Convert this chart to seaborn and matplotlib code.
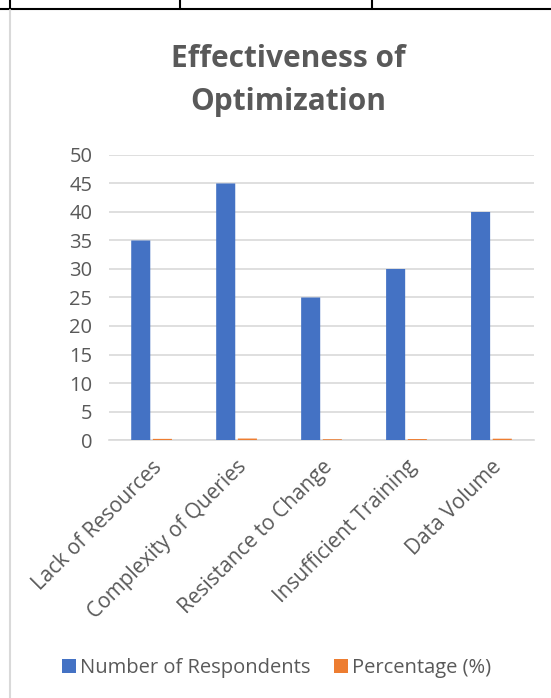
import pandas as pd
import seaborn as sns
import matplotlib.pyplot as plt
from matplotlib.lines import Line2D

# Dados do gráfico
categories = ["Lack of Resources", "Complexity of Queries", "Resistance to Change",
              "Insufficient Training", "Data Volume"]
respondents = [35, 45, 25, 30, 40]
percentage = [0.20, 0.26, 0.14, 0.17, 0.23]
series_names = ["Number of Respondents", "Percentage (%)"]
colors = ["#4472C4", "#ED7D31"]

df = pd.DataFrame({
    "Category": categories * 2,
    "Value": respondents + percentage,
    "Series": [series_names[0]] * 5 + [series_names[1]] * 5,
})

sns.set_theme(style="white")
plt.rcParams["font.family"] = ["Open Sans", "DejaVu Sans"]
grey = "#595959"

fig = plt.figure(figsize=(5.51, 6.98), dpi=100)
ax = fig.add_axes([0.198, 0.3696, 0.771, 0.4084])

sns.barplot(data=df, x="Category", y="Value", hue="Series", palette=colors,
            width=0.51, gap=0.12, ax=ax, legend=True, saturation=1, linewidth=0)
for p in ax.patches:
    p.set_zorder(3)
    p.set_snap(False)

ax.set_ylim(0, 50)
ax.set_yticks(range(0, 51, 5))
ax.set_xlim(-0.5, 4.5)
ax.grid(axis="y", color="#D9D9D9", linewidth=1.2)
ax.set_axisbelow(True)
for s in ["top", "right", "left"]:
    ax.spines[s].set_visible(False)
ax.spines["bottom"].set_color("#D9D9D9")
ax.spines["bottom"].set_linewidth(1.2)
ax.spines["bottom"].set_zorder(0.5)
ax.set_xlabel("")
ax.set_ylabel("")
ax.tick_params(axis="y", length=0, labelsize=14.5, labelcolor=grey, pad=12)
ax.tick_params(axis="x", length=0, labelsize=15, labelcolor=grey, pad=12)
plt.setp(ax.get_xticklabels(), rotation=45, ha="right", rotation_mode="anchor")

# Legenda embaixo
handles, labels = ax.get_legend_handles_labels()
ax.legend_.remove()
fig.legend(handles, labels, loc="center", bbox_to_anchor=(0.502, 0.043), ncol=2,
           frameon=False, fontsize=14.5, labelcolor=grey, handlelength=0.7,
           handleheight=0.7, handletextpad=0.2, columnspacing=1.2)

# Título
fig.text(0.523, 0.885, "Effectiveness of\nOptimization", ha="center", va="center",
         fontsize=21.5, fontweight="bold", color=grey, linespacing=1.55)

# Bordas da tabela
fig.add_artist(Line2D([0, 1], [1 - 9 / 698] * 2, color="black", lw=1.5))
for x in [10, 180, 372]:
    fig.add_artist(Line2D([x / 551] * 2, [1, 1 - 9 / 698], color="black", lw=1.5))
fig.add_artist(Line2D([10 / 551] * 2, [0, 1 - 10 / 698], color="#D9D9D9", lw=1.5))

plt.savefig("out.png", dpi=100)
